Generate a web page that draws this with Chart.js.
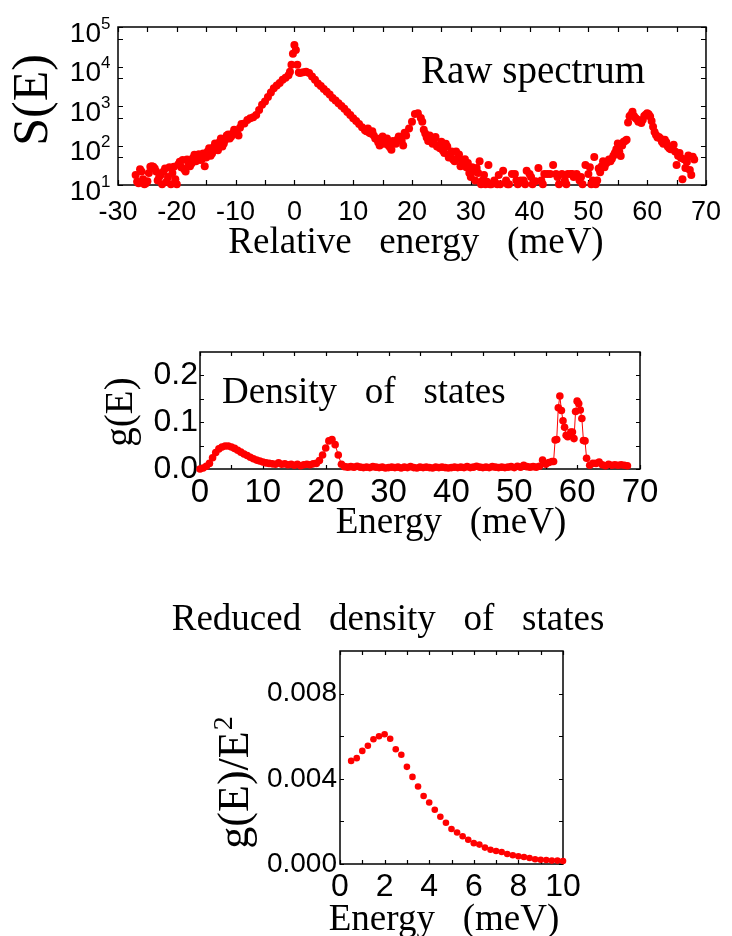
<!DOCTYPE html>
<html>
<head>
<meta charset="utf-8">
<script src="https://cdn.jsdelivr.net/npm/chart.js@4.4.0/dist/chart.umd.min.js"></script>
<style>
  body { margin: 0; background: #fff; width: 732px; height: 936px; position: relative; overflow: hidden; }
  canvas { position: absolute; left: 0; }
</style>
</head>
<body>
<canvas id="rawChart" width="732" height="280" style="top:0px"></canvas>
<canvas id="dosChart" width="732" height="260" style="top:290px"></canvas>
<canvas id="redChart" width="732" height="366" style="top:570px"></canvas>
<script>
// Raw spectrum S(E), counts vs relative energy (meV)
// first block on a 0.5 meV grid, second block the in-between bins of the noisy parts
const rawEnergy = [-27,-26.5,-26,-25.5,-25,-24.5,-24,-23.5,-23,-22.5,-22,-21.5,-21,-20.5,-20,-19.5,-19,-18.5,-18,-17.5,
  -17,-16.5,-16,-15.5,-15,-14.5,-14,-13.5,-13,-12.5,-12,-11.5,-11,-10.5,-10,-9.5,-9,-8.5,-8,-7.5,
  -7,-6.5,-6,-5.5,-5,-4.5,-4,-3.5,-3,-2.5,-2,-1.5,-1,-0.75,-0.5,-0.25,0,0.25,0.5,0.75,
  1,1.5,2,2.5,3,3.5,4,4.5,5,5.5,6,6.5,7,7.5,8,8.5,9,9.5,10,10.5,
  11,11.5,12,12.5,13,13.5,14,14.5,15,15.5,16,16.5,17,17.5,18,18.5,19,19.5,20,20.5,
  21,21.5,22,22.5,23,23.5,24,24.5,25,25.5,26,26.5,27,27.5,28,28.5,29,29.5,30,30.5,
  31,31.5,32,32.5,33,33.5,34,34.5,35,35.5,36,36.5,37,37.5,38,38.5,39,39.5,40,40.5,
  41,41.5,42,42.5,43,43.5,44,44.5,45,45.5,46,46.5,47,47.5,48,48.5,49,49.5,50,50.5,
  51,51.5,52,52.5,53,53.5,54,54.5,55,55.5,56,56.5,57,57.5,58,58.5,59,59.5,60,60.5,
  61,61.5,62,62.5,63,63.5,64,64.5,65,65.5,66,66.5,67,67.5,68,
  -26.75,-26.25,-25.75,-25.25,-24.75,-24.25,-23.75,-23.25,-22.75,-22.25,-21.75,-21.25,-20.75,-20.25,-19.75,-19.25,-18.75,-18.25,
  -17.75,-17.25,-16.75,-16.25,-15.75,-15.25,-14.75,-14.25,-13.75,-13.25,-12.75,-12.25,-11.75,-11.25,-10.75,-10.25,-9.75,-9.25,
  12.25,12.75,13.25,13.75,14.25,14.75,15.25,15.75,16.25,16.75,17.25,17.75,18.25,18.75,21.75,22.25,22.75,23.25,23.75,24.25,
  24.75,25.25,25.75,26.25,26.75,27.25,27.75,28.25,28.75,29.25,29.75,30.25,30.75,31.25,31.75,32.25,32.75,33.25,34.75,36.25,
  37.75,39.25,40.25,42.25,44.75,46.25,47.25,48.75,50.25,50.75,51.25,51.75,52.25,52.75,53.25,53.75,54.25,54.75,55.25,55.75,
  56.25,56.75,57.25,57.75,58.25,58.75,59.25,59.75,60.25,60.75,61.25,61.75,62.25,62.75,63.25,63.75,64.25,64.75,65.25,65.75,
  66.25,66.75,67.25,67.75];
const rawCounts = [18,11,22,10.5,12.5,29,29,22,16,10.5,26,16,10.5,29,10.5,39,43,22,32,35,
  58,52,43,63,50,85,63,112,76,150,112,180,150,200,220,180,350,360,440,490,
  520,590,790,1070,1300,1700,2200,2800,3300,3800,4600,5200,6000,7400,11000,21000,35000,26000,11000,7100,
  6800,7200,7400,6800,5600,4600,3700,3200,2700,2300,1950,1600,1380,1170,1000,850,710,590,490,420,
  350,290,245,270,200,180,150,100,170,125,100,78,115,140,165,100,180,270,400,630,
  660,500,250,160,180,110,165,100,125,65,95,56,44,70,59,36,45,36,16,22,
  27,40,13,10.5,32,10.5,13,10.5,10.5,23,13,10.5,19,19,10.5,13,13,23,19,10.5,
  12.5,27,13,19,19,19,32,19,10.5,19,13,19,19,16,19,13,10.5,32,19,10.5,
  51,13,21,40,35,44,46,65,112,54,125,140,550,720,500,400,370,560,660,540,
  300,185,165,125,140,95,80,105,32,65,14,27,56,18,44,
  12,25,14,11,20,30,26,13,18,22,12,28,20,14,33,28,25,44,
  30,48,40,60,45,30,70,55,90,100,120,95,140,190,170,250,210,280,
  230,210,230,150,120,140,110,150,90,130,110,170,130,210,400,200,130,150,140,95,
  85,75,110,50,70,40,48,30,42,28,20,28,13,20,10.5,18,12,10.5,18,10.5,
  13,10.5,16,10.5,16,10.5,19,16,28,13,10.5,26,30,28,38,40,55,80,70,100,
  130,380,600,560,460,420,450,600,620,420,220,160,150,110,120,85,90,70,55,48,
  45,38,24,52];

// Density of states g(E)
const dosEnergy = [0,0.5,1,1.5,2,2.5,3,3.5,4,4.5,5,5.5,6,6.5,7,7.5,8,8.5,9,9.5,
  10,10.5,11,11.5,12,12.5,13,13.5,14,14.5,15,15.5,16,16.5,17,17.5,18,18.5,19,19.5,
  20,20.5,21,21.5,22,22.5,23,23.5,24,24.5,25,25.5,26,26.5,27,27.5,28,28.5,29,29.5,
  30,30.5,31,31.5,32,32.5,33,33.5,34,34.5,35,35.5,36,36.5,37,37.5,38,38.5,39,39.5,
  40,40.5,41,41.5,42,42.5,43,43.5,44,44.5,45,45.5,46,46.5,47,47.5,48,48.5,49,49.5,
  50,50.5,51,51.5,52,52.5,53,53.5,54,54.5,55,55.5,56,56.25,56.5,56.75,57,57.25,57.5,57.75,
  58,58.25,58.5,58.75,59,59.25,59.5,59.75,60,60.25,60.5,60.75,61,61.25,61.5,62,62.5,63,63.5,64,
  64.5,65,65.5,66,66.5,67,67.5,68];
const dosValues = [0,0.002,0.006,0.012,0.024,0.035,0.043,0.047,0.049,0.049,0.047,0.044,0.040,0.036,0.032,0.029,0.025,0.022,0.019,0.017,
  0.015,0.013,0.012,0.011,0.010,0.013,0.010,0.011,0.009,0.010,0.008,0.010,0.007,0.009,0.010,0.009,0.011,0.012,0.018,0.030,
  0.045,0.060,0.063,0.052,0.030,0.010,0.005,0.004,0.005,0.004,0.006,0.004,0.003,0.004,0.003,0.005,0.004,0.003,0.004,0.002,
  0.003,0.004,0.003,0.004,0.002,0.004,0.003,0.005,0.003,0.002,0.004,0.003,0.004,0.003,0.002,0.004,0.003,0.004,0.003,0.002,
  0.003,0.004,0.003,0.004,0.003,0.005,0.003,0.004,0.006,0.004,0.003,0.004,0.003,0.005,0.004,0.003,0.004,0.003,0.004,0.005,
  0.003,0.006,0.004,0.008,0.005,0.004,0.005,0.004,0.006,0.019,0.010,0.014,0.016,0.016,0.062,0.063,0.131,0.156,0.125,0.103,
  0.089,0.072,0.069,0.072,0.079,0.079,0.065,0.123,0.145,0.140,0.126,0.108,0.061,0.060,0.023,0.008,0.012,0.012,0.015,0.009,
  0.007,0.010,0.008,0.009,0.008,0.009,0.008,0.007];

// Reduced density of states g(E)/E^2
const redEnergy = [0.5,0.75,1,1.25,1.5,1.75,2,2.25,2.5,2.75,3,3.25,3.5,3.75,4,4.25,4.5,4.75,5,5.25,
  5.5,5.75,6,6.25,6.5,6.75,7,7.25,7.5,7.75,8,8.25,8.5,8.75,9,9.25,9.5,9.75,10];
const redValues = [0.00484,0.00497,0.00531,0.00555,0.00586,0.0060,0.00609,0.00588,0.00539,0.00513,
  0.00456,0.00409,0.00364,0.00319,0.00289,0.00255,0.00222,0.00194,0.00164,0.00148,
  0.00130,0.00114,0.00098,0.00091,0.00077,0.00067,0.00061,0.00056,0.00047,0.00041,
  0.00036,0.00033,0.00028,0.00022,0.00020,0.00019,0.00016,0.00016,0.00014];

// tick marks (inward) and log axis labels
const rawXTicks = [-30,-25,-20,-15,-10,-5,0,5,10,15,20,25,30,35,40,45,50,55,60,65,70];
const rawYTicks = [10,50,100,500,1000,5000,10000,50000,100000];
const rawDecades = [1,2,3,4,5];
const dosXTicks = [0,5,10,15,20,25,30,35,40,45,50,55,60,65,70];
const dosYTicks = [0,0.05,0.1,0.15,0.2];
const redXTicks = [0,1,2,3,4,5,6,7,8,9,10];
const redYTicks = [0,0.002,0.004,0.006,0.008];

const SANS = '"Liberation Sans", Arial, sans-serif';
const SERIF = '"Liberation Serif", "Times New Roman", serif';
const RED = '#ff0000';

const toPoints = (xs, ys) => xs.map((x, i) => ({ x: x, y: ys[i] }));

// frame with inward ticks on all four sides
const framePlugin = {
  id: 'frame',
  beforeDatasetsDraw(chart, args, opts) {
    const { ctx, chartArea: a, scales: { x, y } } = chart;
    ctx.save();
    ctx.strokeStyle = '#000';
    ctx.lineWidth = 1.5;
    ctx.strokeRect(a.left, a.top, a.right - a.left, a.bottom - a.top);
    ctx.lineWidth = 1.2;
    ctx.beginPath();
    opts.xTicks.forEach(v => {
      const px = Math.round(x.getPixelForValue(v)) + 0.5;
      ctx.moveTo(px, a.bottom); ctx.lineTo(px, a.bottom - opts.len);
      ctx.moveTo(px, a.top); ctx.lineTo(px, a.top + opts.len);
    });
    opts.yTicks.forEach(v => {
      const py = Math.round(y.getPixelForValue(v)) + 0.5;
      ctx.moveTo(a.left, py); ctx.lineTo(a.left + opts.len, py);
      ctx.moveTo(a.right, py); ctx.lineTo(a.right - opts.len, py);
    });
    ctx.stroke();
    ctx.restore();
  }
};

// free text: titles, annotations, log labels
const textPlugin = {
  id: 'texts',
  afterDraw(chart, args, opts) {
    const ctx = chart.ctx;
    ctx.save();
    ctx.fillStyle = '#000';
    (opts.items || []).forEach(t => {
      ctx.save();
      ctx.font = t.font;
      ctx.textAlign = t.align || 'left';
      ctx.textBaseline = t.baseline || 'alphabetic';
      ctx.translate(t.x, t.y);
      if (t.rotate) ctx.rotate(t.rotate);
      ctx.fillText(t.text, 0, 0);
      if (t.sup) {
        const w = t.align === 'center' ? ctx.measureText(t.text).width / 2 : ctx.measureText(t.text).width;
        ctx.font = t.supFont;
        ctx.textAlign = 'left';
        ctx.fillText(t.sup, w + 1, t.supDy);
      }
      ctx.restore();
    });
    if (opts.logLabels) {
      const y = chart.scales.y, a = chart.chartArea;
      opts.logLabels.forEach(p => {
        const py = y.getPixelForValue(Math.pow(10, p));
        ctx.font = '28px ' + SANS;
        ctx.textAlign = 'right';
        ctx.textBaseline = 'middle';
        ctx.fillText('10', a.left - 17, py + 7);
        ctx.font = '17px ' + SANS;
        ctx.textAlign = 'left';
        ctx.fillText(String(p), a.left - 17, py - 3);
      });
    }
    ctx.restore();
  }
};

function makeChart(id, area, yw, xh, datasets, scales, plugOpts) {
  const cv = document.getElementById(id);
  const W = cv.width, H = cv.height;
  scales.x.afterFit = s => { s.height = xh; };
  scales.y.afterFit = s => { s.width = yw; };
  return new Chart(cv.getContext('2d'), {
    type: 'scatter',
    data: { datasets: datasets },
    options: {
      responsive: false,
      animation: false,
      devicePixelRatio: 1,
      layout: { padding: { left: area.l - yw, top: area.t, right: W - area.r, bottom: H - area.b - xh } },
      plugins: { legend: { display: false }, tooltip: { enabled: false }, frame: plugOpts.frame, texts: plugOpts.texts },
      scales: scales
    },
    plugins: [framePlugin, textPlugin]
  });
}

const noGrid = { display: false, drawTicks: false };

// panel 1: raw spectrum (log scale)
makeChart('rawChart', { l: 118, t: 27, r: 711, b: 185 }, 20, 40,
  [{ data: toPoints(rawEnergy, rawCounts), backgroundColor: RED, borderWidth: 0, pointRadius: 4, clip: false }],
  {
    x: {
      type: 'linear', min: -30, max: 70,
      grid: noGrid, border: { display: false },
      ticks: { stepSize: 10, color: '#000', padding: 11, font: { family: SANS, size: 27 } }
    },
    y: {
      type: 'logarithmic', min: 10, max: 100000,
      grid: noGrid, border: { display: false },
      ticks: { display: false }
    }
  },
  {
    frame: { xTicks: rawXTicks, yTicks: rawYTicks, len: 5 },
    texts: {
      logLabels: rawDecades,
      items: [
        { text: 'S(E)', x: 47, y: 100, font: '50px ' + SERIF, align: 'center', rotate: -Math.PI / 2 },
        { text: 'Relative   energy   (meV)', x: 416, y: 253, font: '37px ' + SERIF, align: 'center' },
        { text: 'Raw spectrum', x: 421, y: 83, font: '39px ' + SERIF }
      ]
    }
  });

// panel 2: density of states
makeChart('dosChart', { l: 200, t: 62, r: 640, b: 179 }, 70, 50,
  [{ data: toPoints(dosEnergy, dosValues), backgroundColor: RED, borderColor: RED, borderWidth: 1,
     showLine: true, pointRadius: 3.8, pointBorderWidth: 0, clip: false }],
  {
    x: {
      type: 'linear', min: 0, max: 70,
      grid: noGrid, border: { display: false },
      ticks: { stepSize: 10, color: '#000', padding: 4, font: { family: SANS, size: 33 } }
    },
    y: {
      type: 'linear', min: 0, max: 0.25,
      grid: noGrid, border: { display: false },
      ticks: { stepSize: 0.1, includeBounds: false, color: '#000', padding: 2, font: { family: SANS, size: 32 },
               callback: v => v.toFixed(1) }
    }
  },
  {
    frame: { xTicks: dosXTicks, yTicks: dosYTicks, len: 4 },
    texts: {
      items: [
        { text: 'g(E)', x: 132, y: 122, font: '39px ' + SERIF, align: 'center', rotate: -Math.PI / 2 },
        { text: 'Density   of   states', x: 222, y: 113, font: '37px ' + SERIF },
        { text: 'Energy   (meV)', x: 451, y: 243, font: '37px ' + SERIF, align: 'center' }
      ]
    }
  });

// panel 3: reduced density of states
makeChart('redChart', { l: 340, t: 81, r: 563, b: 294 }, 90, 50,
  [{ data: toPoints(redEnergy, redValues), backgroundColor: RED, borderWidth: 0, pointRadius: 3.3, clip: false }],
  {
    x: {
      type: 'linear', min: 0, max: 10,
      grid: noGrid, border: { display: false },
      ticks: { stepSize: 2, color: '#000', padding: 4, font: { family: SANS, size: 32 } }
    },
    y: {
      type: 'linear', min: 0, max: 0.01,
      grid: noGrid, border: { display: false },
      ticks: { stepSize: 0.004, includeBounds: false, color: '#000', padding: 3, font: { family: SANS, size: 28 },
               callback: v => v.toFixed(3) }
    }
  },
  {
    frame: { xTicks: redXTicks, yTicks: redYTicks, len: 4 },
    texts: {
      items: [
        { text: 'Reduced   density   of   states', x: 388, y: 60, font: '37px ' + SERIF, align: 'center' },
        { text: 'g(E)/E', x: 248, y: 220, font: '44px ' + SERIF, align: 'center', rotate: -Math.PI / 2,
          sup: '2', supFont: '28px ' + SERIF, supDy: -16 },
        { text: 'Energy   (meV)', x: 444, y: 360, font: '37px ' + SERIF, align: 'center' }
      ]
    }
  });
</script>
</body>
</html>
